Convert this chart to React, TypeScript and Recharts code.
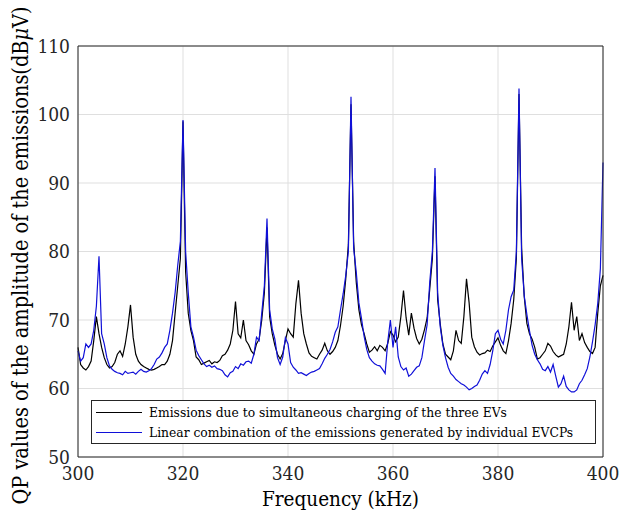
import { CartesianGrid, Legend, Line, LineChart, XAxis, YAxis } from "recharts";

const FONT = "'DejaVu Serif Condensed', 'DejaVu Serif'";
const AXIS = "#262626";

// frequency grid: 300 kHz .. 400 kHz every 0.5 kHz
const freqStart = 300;
const freqStep = 0.5;

// QP values (dBµV), simultaneous charging of the three EVs
const combined = [
  66, 63.5, 63, 62.7, 63.2, 64, 67, 70.5, 68, 66,
  64.5, 63.5, 63, 63.2, 63.8, 65, 65.5, 64.7, 66.5, 69,
  72.2, 67.5, 65, 64, 63.5, 63.2, 63, 62.8, 62.7, 62.8,
  63, 63.2, 63.5, 63.5, 64, 65, 67, 71, 75, 79,
  99, 77, 71, 68.5, 67, 64.6, 64.2, 63.5, 63.7, 63.9,
  64.1, 63.6, 63.9, 63.8, 64.1, 64.8, 65, 65.6, 66.5, 68.5,
  72.7, 68, 67.4, 70, 67, 66.4, 65.5, 65, 66.5, 67.2,
  70, 74, 83.5, 70.5, 68, 66.3, 65, 64.3, 65.1, 67,
  68.7, 68, 67.5, 72.4, 75.8, 71, 68, 66.5, 65.2, 64.7,
  64.5, 64.3, 65, 65.6, 66.6, 65.5, 65, 65.4, 66, 67,
  69.2, 72, 76, 81, 101.5, 81.5, 75.5, 71.5, 69.3, 68,
  66.5, 65.3, 65.6, 66.1, 65.5, 66.3, 66, 65.5, 66.6, 68.3,
  67.8, 66.8, 67.5, 70.5, 74.3, 70.3, 67.8, 71, 68.8, 67.3,
  66.5, 67.2, 68.6, 70.3, 74.5, 79, 91, 73, 69.4, 66.5,
  65, 64.6, 64.2, 65.5, 68.5, 67, 66.6, 70.5, 76, 72.5,
  67.5, 66.1, 65.3, 64.9, 65.1, 65.2, 65.6, 65.4, 66.2, 66.8,
  67.4, 66.3, 65.5, 65.1, 67, 69.5, 73, 79, 103, 80.5,
  73.4, 69.5, 68, 67.2, 66, 64.3, 64.5, 65, 65.5, 66.6,
  66.2, 65.4, 64.9, 64.6, 64.8, 65, 66.5, 69, 72.6, 68.5,
  70.5, 67, 68, 66.7, 66, 65.4, 65.1, 66, 71, 75,
  76.5,
];

// QP values (dBµV), linear combination of individual EVCP emissions
const individual = [
  65.5, 64, 64.5, 66.5, 66, 66.5, 68.5, 72, 79.3, 68,
  66.5, 64.5, 63.3, 62.8, 62.5, 62.3, 62.2, 62, 62.5, 62.2,
  62.3, 62.4, 62.1, 62.5, 62.8, 62.5, 62.4, 62.6, 62.9, 63.5,
  64.3, 64.6, 65.2, 66, 66.5, 68.5, 71, 74, 78, 81.5,
  99.2, 80, 74, 69, 67.5, 65.6, 64.8, 64.2, 63.6, 63.2,
  63.4, 63.1, 63.3, 62.9, 62.8, 62.6, 62, 61.7, 62.3, 62.5,
  63.2, 62.9, 63.6, 63.4, 63.9, 64, 63.7, 65, 67.5, 67,
  71, 75, 84.8, 71.5, 68.7, 67.2, 64.5, 63.5, 64.6, 67.4,
  66.5, 63.8, 63.1, 62.7, 62.2, 62.3, 62.1, 61.9, 62.2, 62.4,
  62.5, 62.7, 62.9, 63.6, 64.4, 65, 65.7, 66.8, 68.2, 69,
  71.5, 73.8, 76.5, 80, 102.6, 80.5, 77, 72.5, 70.2, 67.6,
  65.7, 64.5, 64, 63.6, 63.4, 63.3, 62.8, 62.2, 66.8, 70,
  66, 69, 64.6, 63.2, 62.7, 63, 61.8, 62.1, 62.6, 63.1,
  63.3, 64.5, 67, 69.3, 75.5, 80, 92.2, 74, 69, 66.3,
  64.5, 63.1, 62.2, 61.8, 61.3, 61, 60.7, 60.5, 60.2, 59.8,
  60, 60.3, 60.5, 61.2, 62.1, 62.6, 62.2, 63.5, 65.5, 68,
  68.5, 67.2, 66.5, 68.5, 71.5, 73.4, 74.4, 80, 103.8, 79,
  73.5, 70.8, 68.4, 66.3, 65, 64.2, 63.6, 62.8, 62.6, 63.2,
  62.4, 63.5, 61.8, 60.2, 60.7, 61.8, 60.3, 59.8, 59.5, 59.5,
  59.8, 60.7, 61.2, 62, 62.9, 64.6, 66.8, 69.3, 72.4, 77.5,
  93,
];

const xTicks = [300, 320, 340, 360, 380, 400];
const yTicks = [50, 60, 70, 80, 90, 100, 110];

const seriesNames = [
  "Emissions due to simultaneous charging of the three EVs",
  "Linear combination of the emissions generated by individual EVCPs",
];
const seriesColors = ["#000000", "#1010d8"];

const data = combined.map((v, i) => ({
  f: freqStart + i * freqStep,
  combined: v,
  individual: individual[i],
}));

function LegendBox({ payload }: any) {
  const items = payload && payload.length ? payload : seriesNames.map((n, i) => ({ value: n, color: seriesColors[i] }));
  return (
    <div
      style={{
        boxSizing: "border-box",
        width: 505,
        height: 44,
        border: `1px solid ${AXIS}`,
        background: "#fff",
        fontFamily: FONT,
        fontSize: 13.7,
        color: "#000",
        paddingTop: 1,
      }}
    >
      {items.map((it: any) => (
        <div key={it.value} style={{ display: "flex", alignItems: "center", height: 20, whiteSpace: "nowrap" }}>
          <span style={{ display: "inline-block", width: 46, marginLeft: 4, marginRight: 7, borderTop: `1px solid ${it.color}` }} />
          <span>{it.value}</span>
        </div>
      ))}
    </div>
  );
}

function YTitle({ viewBox }: any) {
  const cx = viewBox.x + 28;
  const cy = viewBox.y + viewBox.height / 2 + 4;
  return (
    <text x={cx} y={cy} transform={`rotate(-90 ${cx} ${cy})`} textAnchor="middle" fontFamily={FONT} fontSize={21.5} fill="#000">
      QP values of the amplitude of the emissions(dB<tspan fontStyle="italic">μ</tspan>V)
    </text>
  );
}

function XTitle({ viewBox }: any) {
  const cx = viewBox.x + viewBox.width / 2;
  return (
    <text x={cx} y={viewBox.y + 49} textAnchor="middle" fontFamily={FONT} fontSize={20.5} fill="#000">
      Frequency (kHz)
    </text>
  );
}

export default function App() {
  const tickStyle = { fontFamily: FONT, fontSize: 19, fill: AXIS };
  return (
    <div style={{ position: "absolute", left: 0, top: 0, width: 619, height: 516, background: "#fff", fontFamily: FONT }}>
      <LineChart width={619} height={516} data={data} margin={{ top: 46, right: 16, left: 0, bottom: 0 }}>
        <CartesianGrid stroke="#dfdfdf" strokeWidth={1} />
        <XAxis
          dataKey="f"
          type="number"
          domain={[300, 400]}
          ticks={xTicks}
          height={59}
          stroke={AXIS}
          tickLine={false}
          tickSize={0}
          tickMargin={10}
          tick={tickStyle}
          label={<XTitle />}
        />
        <XAxis xAxisId="btick" dataKey="f" type="number" domain={[300, 400]} ticks={xTicks} mirror tick={false} tickSize={5} stroke={AXIS} axisLine={false} />
        <XAxis xAxisId="top" orientation="top" dataKey="f" type="number" domain={[300, 400]} ticks={xTicks} mirror tick={false} tickSize={5} stroke={AXIS} />
        <YAxis
          type="number"
          domain={[50, 110]}
          ticks={yTicks}
          width={78}
          stroke={AXIS}
          tickLine={false}
          tickSize={0}
          tickMargin={8}
          tick={tickStyle}
          label={<YTitle />}
        />
        <YAxis yAxisId="ltick" type="number" domain={[50, 110]} ticks={yTicks} mirror tick={false} tickSize={5} stroke={AXIS} axisLine={false} />
        <YAxis yAxisId="right" orientation="right" type="number" domain={[50, 110]} ticks={yTicks} mirror tick={false} tickSize={5} stroke={AXIS} />
        <Legend
          layout="vertical"
          align="center"
          verticalAlign="middle"
          wrapperStyle={{ left: 91, top: 400, width: 505, height: 44 }}
          content={(props: any) => <LegendBox payload={props.payload} />}
        />
        <Line
          type="linear"
          dataKey="combined"
          name={seriesNames[0]}
          stroke={seriesColors[0]}
          strokeWidth={1.2}
          dot={false}
          isAnimationActive={false}
        />
        <Line
          type="linear"
          dataKey="individual"
          name={seriesNames[1]}
          stroke={seriesColors[1]}
          strokeWidth={1.2}
          dot={false}
          isAnimationActive={false}
        />
      </LineChart>
    </div>
  );
}
